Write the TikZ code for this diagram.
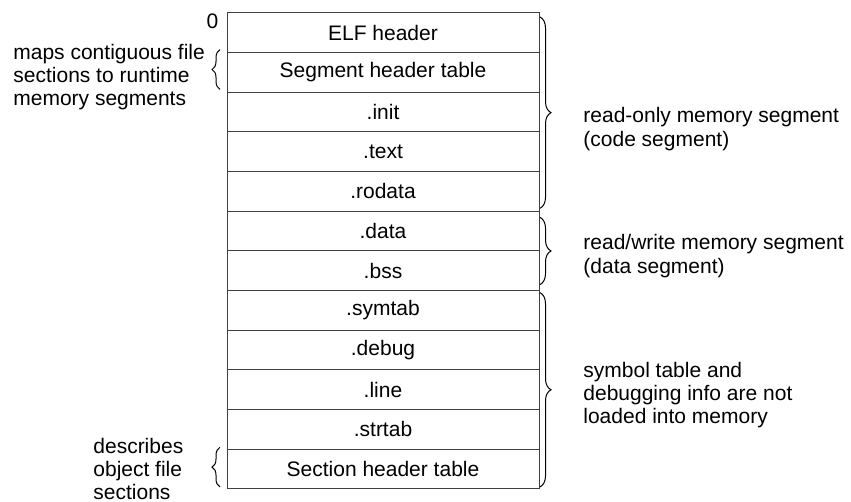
\documentclass[tikz,border=0pt]{standalone}
\usepackage{fontspec}
\setmainfont{Liberation Sans}
\usetikzlibrary{positioning,decorations.pathreplacing}

\begin{document}
\begin{tikzpicture}[x=0.5pt, y=-0.5pt,
	every node/.style={font=\fontsize{10.5}{11.7}\selectfont},
	section/.style={draw=black!75, line width=0.5pt, minimum width=156pt, minimum height=19.83pt, inner sep=0pt, outer sep=0pt},
	rbrace/.style={decorate, decoration={brace, amplitude=5.5pt}, line width=0.5pt},
	lbrace/.style={decorate, decoration={brace, amplitude=4pt}, line width=0.5pt},
	note/.style={anchor=west, align=left, inner sep=0pt}]
	\useasboundingbox (0,0) rectangle (851,502);
	% sections of the object file
	\node[section, anchor=north] (elf) at (383,13) {ELF header};
	\node[section, below=0pt of elf] (seghdr) {Segment header table};
	\node[section, below=0pt of seghdr] (init) {.init};
	\node[section, below=0pt of init] (text) {.text};
	\node[section, below=0pt of text] (rodata) {.rodata};
	\node[section, below=0pt of rodata] (data) {.data};
	\node[section, below=0pt of data] (bss) {.bss};
	\node[section, below=0pt of bss] (symtab) {.symtab};
	\node[section, below=0pt of symtab] (debug) {.debug};
	\node[section, below=0pt of debug] (line) {.line};
	\node[section, below=0pt of line] (strtab) {.strtab};
	\node[section, below=0pt of strtab] (sechdr) {Section header table};
	\node (zero) at (212.5,21) {0};
	% braces on the right
	\draw[rbrace] ([shift={(0.5pt,-2pt)}]elf.north east) -- ([shift={(0.5pt,1.5pt)}]rodata.south east);
	\draw[rbrace] ([shift={(0.5pt,-3pt)}]data.north east) -- ([shift={(0.5pt,3pt)}]bss.south east);
	\draw[rbrace] ([shift={(0.5pt,-1pt)}]symtab.north east) -- ([shift={(0.5pt,1pt)}]sechdr.south east);
	\node[note] (ro) at (583,129) {read-only memory segment\\(code segment)};
	\node[note] (rw) at (583,256) {read/write memory segment\\(data segment)};
	\node[note] (dbg) at (583,395) {symbol table and\\debugging info are not\\loaded into memory};
	% braces on the left
	\draw[lbrace] ([shift={(-3.5pt,1.5pt)}]seghdr.south west) -- ([shift={(-3.5pt,1.5pt)}]seghdr.north west);
	\draw[lbrace] ([shift={(-3.5pt,1pt)}]sechdr.south west) -- ([shift={(-3.5pt,1pt)}]sechdr.north west);
	\node[note] (maps) at (13,77) {maps contiguous file\\sections to runtime\\memory segments};
	\node[note] (desc) at (93,469) {describes\\object file\\sections};
\end{tikzpicture}
\end{document}
